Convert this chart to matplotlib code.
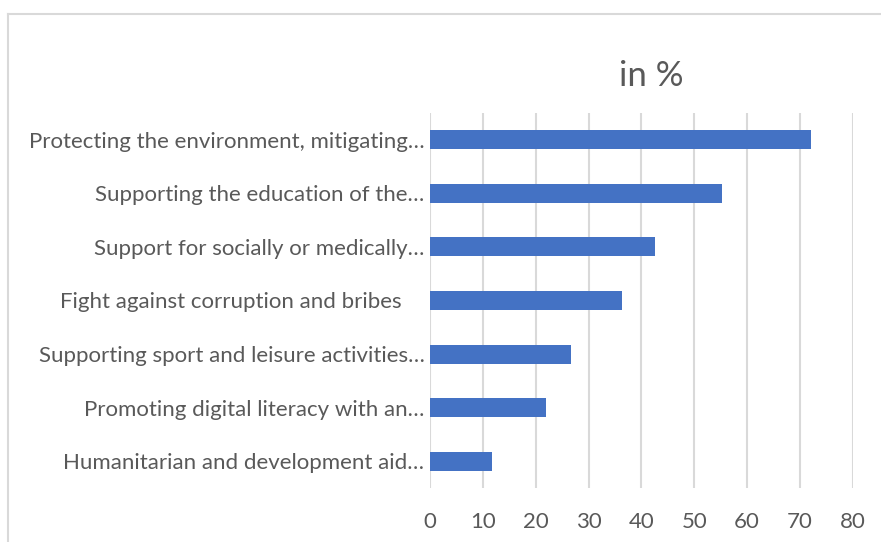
import matplotlib
matplotlib.use("Agg")
import matplotlib.pyplot as plt
from matplotlib.lines import Line2D

categories = [
    "Protecting the environment, mitigating\u2026",
    "Supporting the education of the\u2026",
    "Support for socially or medically\u2026",
    "Fight against corruption and bribes    ",
    "Supporting sport and leisure activities\u2026",
    "Promoting digital literacy with an\u2026",
    "Humanitarian and development aid\u2026",
]
values = [72.2, 55.3, 42.5, 36.4, 26.7, 21.9, 11.7]
xticks = [0, 10, 20, 30, 40, 50, 60, 70, 80]
title = "in %"

plt.rcParams["font.family"] = ["Lato", "DejaVu Sans"]
text_color = "#595959"
grid_color = "#D9D9D9"
bar_color = "#4472C4"

W, H = 881, 542
fig = plt.figure(figsize=(W / 100, H / 100), dpi=100)
fig.patch.set_facecolor("white")

# chart area frame (left and top edges)
fig.add_artist(Line2D([8 / W, 8 / W], [0, 1 - 14 / H], transform=fig.transFigure,
                      color=grid_color, lw=1.5))
fig.add_artist(Line2D([8 / W, 1], [1 - 14 / H, 1 - 14 / H], transform=fig.transFigure,
                      color=grid_color, lw=1.5))

ax = fig.add_axes([430 / W, 1 - 488 / H, (852.7 - 430) / W, (488 - 113) / H])
n = len(categories)
ypos = list(range(n - 1, -1, -1))
ax.barh(ypos, values, height=0.355, color=bar_color, zorder=3)

ax.set_xlim(0, 80)
ax.set_ylim(-0.5, n - 0.5)
ax.set_xticks(xticks)
ax.set_xticklabels([str(t) for t in xticks])
ax.set_yticks(ypos)
ax.set_yticklabels(categories)

ax.grid(axis="x", color=grid_color, lw=1.5, zorder=0)
for s in ["top", "right", "bottom", "left"]:
    ax.spines[s].set_visible(False)

ax.tick_params(axis="x", length=0, pad=17, labelsize=16, labelcolor=text_color)
ax.tick_params(axis="y", length=0, pad=4, labelsize=16, labelcolor=text_color)

fig.text(651 / W, 1 - 76 / H, title, ha="center", va="center",
         fontsize=25, color=text_color)

fig.savefig("out.png", dpi=100, facecolor="white")
